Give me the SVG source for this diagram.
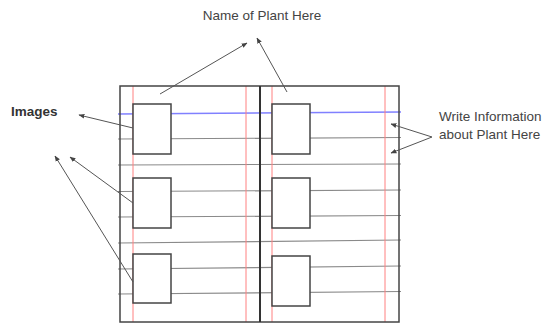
<svg xmlns="http://www.w3.org/2000/svg" width="546" height="324" viewBox="0 0 546 324">
<style>
.frame{fill:none;stroke:#444;stroke-width:1.5}
.rule{stroke:#8a8a8a;stroke-width:1.2;fill:none}
.red{stroke:#ff8080;stroke-width:1;fill:none}
.blue{stroke:#8080ff;stroke-width:1.5;fill:none}
.box{fill:#fff;stroke:#444;stroke-width:1.5}
.arrow{stroke:#555;stroke-width:1;fill:none;marker-end:url(#ah)}
.lbl{font-family:"Liberation Sans",Arial,sans-serif;font-size:13.5px;fill:#444}
</style>
<defs>
<marker id="ah" viewBox="0 0 10 10" refX="9" refY="5" markerWidth="6" markerHeight="6" orient="auto" markerUnits="userSpaceOnUse">
<path d="M0,1 L10,5 L0,9 Z" fill="#444"/>
</marker>
</defs>
<rect width="546" height="324" fill="#fff"/>
<g id="page">
<line class="rule" x1="118" y1="139" x2="401" y2="137.5"/>
<line class="rule" x1="118" y1="165" x2="401" y2="164"/>
<line class="rule" x1="118" y1="191.5" x2="401" y2="190"/>
<line class="rule" x1="118" y1="217" x2="401" y2="215.5"/>
<line class="rule" x1="118" y1="243" x2="401" y2="240"/>
<line class="rule" x1="118" y1="269" x2="401" y2="266"/>
<line class="rule" x1="118" y1="294" x2="401" y2="291.5"/>
<line class="blue" x1="118" y1="114" x2="401" y2="112"/>
<line class="red" x1="133" y1="86" x2="133" y2="322"/>
<line class="red" x1="246" y1="86" x2="246" y2="322"/>
<line class="red" x1="272" y1="86" x2="272" y2="322"/>
<line class="red" x1="385" y1="86" x2="385" y2="322"/>
<rect class="frame" x="120" y="86" width="279" height="236"/>
<line x1="260" y1="86" x2="260" y2="322" stroke="#333" stroke-width="2"/>
</g>
<g id="img-l1"><rect class="box" x="133" y="104" width="38" height="50"/></g>
<g id="img-l2"><rect class="box" x="133" y="178" width="38" height="50"/></g>
<g id="img-l3"><rect class="box" x="133" y="254" width="38" height="49"/></g>
<g id="img-r1"><rect class="box" x="272" y="104" width="38" height="50"/></g>
<g id="img-r2"><rect class="box" x="272" y="178" width="38" height="50"/></g>
<g id="img-r3"><rect class="box" x="272" y="256" width="38" height="50"/></g>
<g id="label-name"><text class="lbl" x="262" y="20" text-anchor="middle">Name of Plant Here</text></g>
<g id="label-images"><text class="lbl" x="11" y="116" font-weight="bold" style="fill:#333">Images</text></g>
<g id="label-info"><text class="lbl" x="439" y="121">Write Information</text><text class="lbl" x="439" y="138.5">about Plant Here</text></g>
<g id="connectors">
<line class="arrow" x1="160" y1="94" x2="247" y2="43"/>
<line class="arrow" x1="287" y1="92" x2="257" y2="38"/>
<line class="arrow" x1="133" y1="128" x2="79" y2="115"/>
<line class="arrow" x1="133" y1="203" x2="70" y2="157"/>
<line class="arrow" x1="133" y1="282" x2="55" y2="156"/>
<line class="arrow" x1="432" y1="137" x2="391" y2="124"/>
<line class="arrow" x1="432" y1="137" x2="391" y2="153"/>
</g>
</svg>
